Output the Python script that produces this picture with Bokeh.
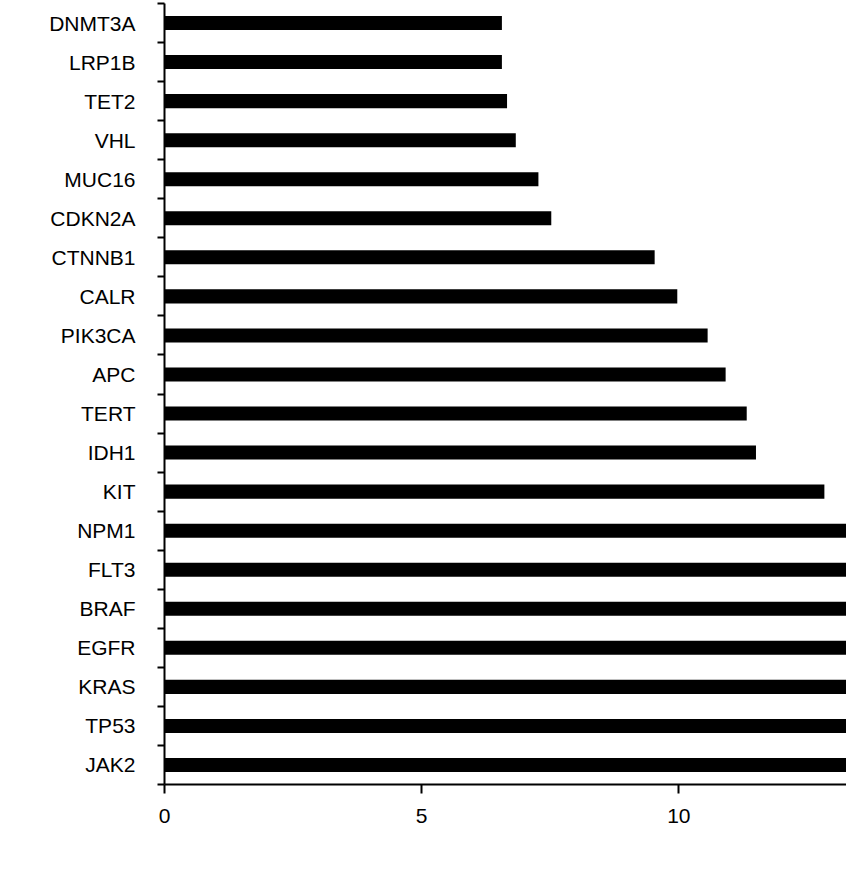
from bokeh.plotting import figure
from bokeh.models import FactorRange, Range1d, LinearAxis, FixedTicker, Label, ColumnDataSource
from bokeh.embed import file_html
from bokeh.resources import INLINE

# Data (top to bottom as in the chart)
genes = ["DNMT3A", "LRP1B", "TET2", "VHL", "MUC16", "CDKN2A", "CTNNB1", "CALR",
         "PIK3CA", "APC", "TERT", "IDH1", "KIT", "NPM1", "FLT3", "BRAF", "EGFR",
         "KRAS", "TP53", "JAK2"]
values = [6.56, 6.56, 6.66, 6.83, 7.27, 7.52, 9.53, 9.97,
          10.56, 10.91, 11.32, 11.50, 12.83, 13.8, 14.5, 15.2, 16.0,
          17.5, 19.0, 21.0]
x_ticks = [0, 5, 10]
panel_labels = ["A", "B"]

FONT = "Liberation Sans"
FS = "21px"

factors = genes[::-1]
n = len(factors)

p = figure(width=846, height=870,
           y_range=FactorRange(factors=factors),
           x_range=Range1d(0, 13.26),
           x_axis_type=None, y_axis_type=None,
           output_backend="svg", toolbar_location=None,
           min_border_left=164, min_border_right=0,
           min_border_top=3, min_border_bottom=86)
p.outline_line_color = None
p.background_fill_color = "white"
p.border_fill_color = "white"

src = ColumnDataSource(dict(gene=genes, val=values))
p.hbar(y="gene", right="val", left=0, height=0.36, source=src,
       fill_color="black", line_color=None)

# Y axis: labels at category centres, ticks at category boundaries
centers = [i + 0.5 for i in range(n)]
bounds = [i for i in range(n + 1)]
yaxis = LinearAxis(ticker=FixedTicker(ticks=centers, minor_ticks=bounds),
                   major_label_overrides={c: f for c, f in zip(centers, factors)})
yaxis.axis_line_width = 2
yaxis.axis_line_color = "black"
yaxis.major_tick_out = 0
yaxis.major_tick_in = 0
yaxis.minor_tick_out = 7
yaxis.minor_tick_in = 0
yaxis.minor_tick_line_width = 2
yaxis.minor_tick_line_color = "black"
yaxis.major_label_standoff = 22
yaxis.major_label_text_font = FONT
yaxis.major_label_text_font_size = FS
yaxis.major_label_text_color = "black"
p.add_layout(yaxis, "left")

xaxis = LinearAxis(ticker=FixedTicker(ticks=x_ticks))
xaxis.axis_line_width = 2
xaxis.axis_line_color = "black"
xaxis.major_tick_out = 9
xaxis.major_tick_in = 0
xaxis.major_tick_line_width = 2
xaxis.major_tick_line_color = "black"
xaxis.minor_tick_out = 0
xaxis.minor_tick_in = 0
xaxis.major_label_standoff = 15
xaxis.major_label_text_font = FONT
xaxis.major_label_text_font_size = FS
xaxis.major_label_text_color = "black"
p.add_layout(xaxis, "below")

# Panel letters, cut off at the page edges as in the reference
p.add_layout(Label(x=-2.74, y=n - 0.026, text=panel_labels[0], text_baseline="alphabetic",
                   text_font=FONT, text_font_size=FS, text_color="black"))
p.add_layout(Label(x=-2.94, y=-2.05, text=panel_labels[1], text_baseline="top",
                   text_font=FONT, text_font_size=FS, text_color="black"))

open("out.html", "w").write(file_html(p, INLINE))
